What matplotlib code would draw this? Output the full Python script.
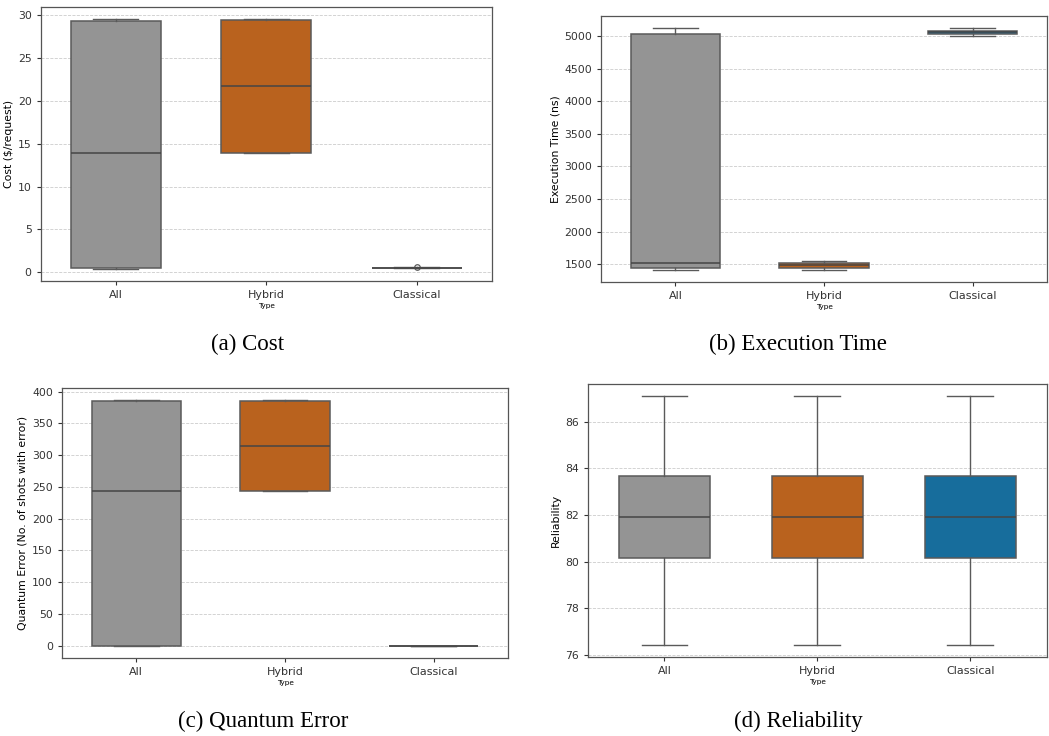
"""Box plots of cost / execution time / quantum error / reliability per job type."""
import matplotlib

matplotlib.use("Agg")
import matplotlib.pyplot as plt

plt.rcParams.update({
    "font.family": "DejaVu Sans",
    "axes.edgecolor": "#555555",
    "axes.linewidth": 0.9,
    "xtick.color": "#333333",
    "ytick.color": "#333333",
})

CATS = ["All", "Hybrid", "Classical"]
C_ALL = "#949494"
C_HYB = "#b9621e"
C_CLA = "#176d9c"
C_LINE = "#5a5a5a"

# five-number summaries: (whislo, q1, med, q3, whishi)
COST_WLO = [0.43, 13.87, 0.47]
COST_Q1 = [0.54, 13.95, 0.50]
COST_MED = [13.95, 21.69, 0.52]
COST_Q3 = [29.30, 29.34, 0.55]
COST_WHI = [29.46, 29.46, 0.58]
COST_FLIERS = [[], [], [0.67]]

TIME_WLO = [1413, 1413, 5005]
TIME_Q1 = [1444, 1434, 5036]
TIME_MED = [1520, 1480, 5056]
TIME_Q3 = [5036, 1515, 5072]
TIME_WHI = [5117, 1546, 5117]

QERR_WLO = [0, 243.2, 0]
QERR_Q1 = [0, 243.8, 0]
QERR_MED = [243.2, 315, 0]
QERR_Q3 = [385.8, 385.8, 0]
QERR_WHI = [386.4, 386.4, 0]

REL_WLO = [76.44, 76.44, 76.44]
REL_Q1 = [80.16, 80.16, 80.16]
REL_MED = [81.91, 81.91, 81.91]
REL_Q3 = [83.65, 83.65, 83.65]
REL_WHI = [87.08, 87.08, 87.08]


def draw_panel(ax, wlo, q1, med, q3, whi, ylabel, fliers=None):
    if fliers is None:
        fliers = [[] for _ in CATS]
    stats = []
    for i, name in enumerate(CATS):
        stats.append(dict(label=name, whislo=wlo[i], q1=q1[i], med=med[i],
                          q3=q3[i], whishi=whi[i], fliers=fliers[i]))
    ax.yaxis.grid(True, linestyle="--", color="#cccccc", lw=0.6)
    ax.set_axisbelow(True)
    bp = ax.bxp(stats, positions=range(len(CATS)), widths=0.6, capwidths=0.3,
                patch_artist=True, showfliers=True,
                boxprops=dict(edgecolor=C_LINE, lw=1.1),
                whiskerprops=dict(color=C_LINE, lw=1.0),
                capprops=dict(color=C_LINE, lw=1.0),
                medianprops=dict(color="#454545", lw=1.1),
                flierprops=dict(marker="o", markersize=4, markerfacecolor="none",
                                markeredgecolor=C_LINE, markeredgewidth=0.9))
    for patch, c in zip(bp["boxes"], [C_ALL, C_HYB, C_CLA]):
        patch.set_facecolor(c)
    ax.set_xlim(-0.5, len(CATS) - 0.5)
    ax.set_xticks(range(len(CATS)))
    ax.set_xticklabels(CATS, fontsize=8)
    ax.tick_params(axis="y", labelsize=7.8, length=3)
    ax.tick_params(axis="x", length=3)
    ax.set_xlabel("Type", fontsize=5.3, labelpad=2)
    ax.set_ylabel(ylabel, fontsize=7.8, labelpad=3)


fig = plt.figure(figsize=(10.49, 7.36), dpi=100)
ax_a = fig.add_axes([0.0388, 0.618, 0.4302, 0.3725])
ax_b = fig.add_axes([0.573, 0.617, 0.425, 0.361])
ax_c = fig.add_axes([0.0591, 0.106, 0.4252, 0.3668])
ax_d = fig.add_axes([0.5605, 0.1073, 0.4375, 0.371])

draw_panel(ax_a, COST_WLO, COST_Q1, COST_MED, COST_Q3, COST_WHI,
           "Cost (\\$/request)", COST_FLIERS)
draw_panel(ax_b, TIME_WLO, TIME_Q1, TIME_MED, TIME_Q3, TIME_WHI,
           "Execution Time (ns)")
draw_panel(ax_c, QERR_WLO, QERR_Q1, QERR_MED, QERR_Q3, QERR_WHI,
           "Quantum Error (No. of shots with error)")
draw_panel(ax_d, REL_WLO, REL_Q1, REL_MED, REL_Q3, REL_WHI, "Reliability")

ax_a.set_yticks(range(0, 31, 5))
ax_b.set_yticks(range(1500, 5001, 500))
ax_c.set_yticks(range(0, 401, 50))
ax_d.set_yticks(range(76, 87, 2))

cap_kw = dict(ha="center", va="center", fontsize=16.5,
              family=["Liberation Serif", "DejaVu Serif"])
fig.text(248 / 1049, 1 - 344 / 736, "(a) Cost", **cap_kw)
fig.text(798 / 1049, 1 - 344 / 736, "(b) Execution Time", **cap_kw)
fig.text(263 / 1049, 1 - 721 / 736, "(c) Quantum Error", **cap_kw)
fig.text(798 / 1049, 1 - 721 / 736, "(d) Reliability", **cap_kw)

fig.savefig("out.png", dpi=100)
